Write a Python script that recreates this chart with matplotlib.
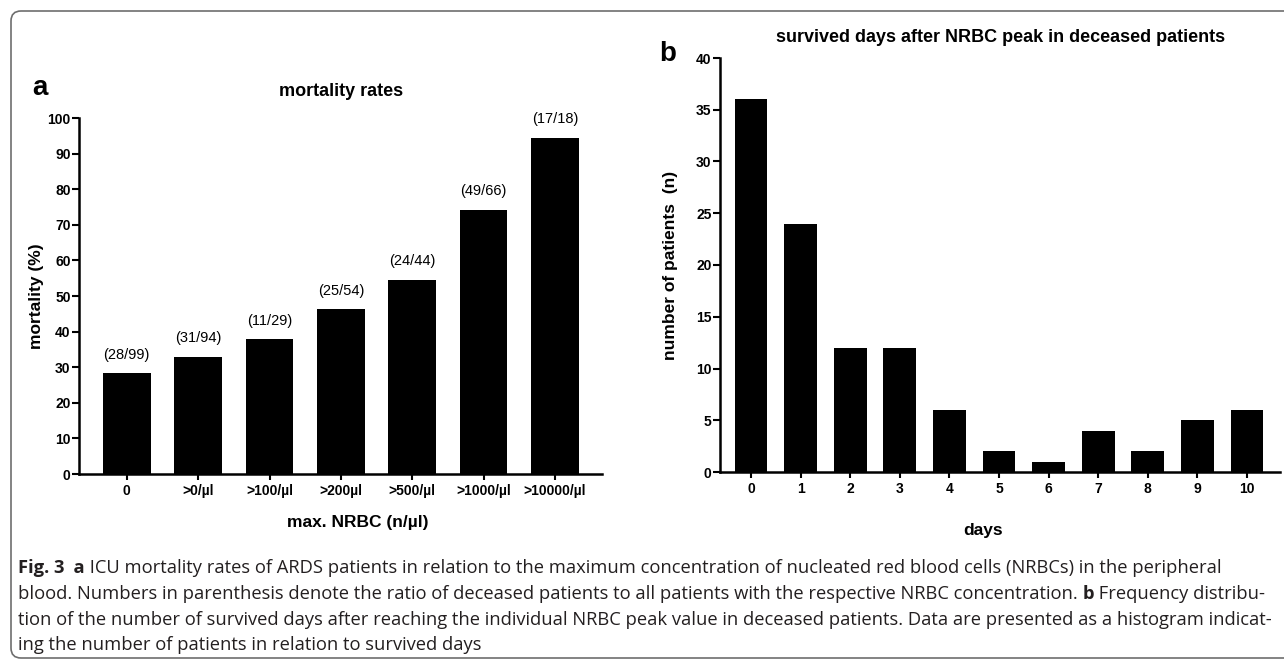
import matplotlib
matplotlib.use('Agg')
import matplotlib.pyplot as plt
from matplotlib import font_manager
from matplotlib.path import Path
from matplotlib.patches import PathPatch

# panel a: mortality by max NRBC
nrbc_groups = ['0', '>0/µl', '>100/µl', '>200µl', '>500/µl', '>1000/µl', '>10000/µl']
mortality = [28.3, 33.0, 37.9, 46.3, 54.5, 74.2, 94.4]
ratio_labels = ['(28/99)', '(31/94)', '(11/29)', '(25/54)', '(24/44)', '(49/66)', '(17/18)']

# panel b: survived days after NRBC peak
days = [0, 1, 2, 3, 4, 5, 6, 7, 8, 9, 10]
n_patients = [36, 24, 12, 12, 6, 2, 1, 4, 2, 5, 6]

W, H = 1284, 660
plt.rcParams['font.family'] = ['Liberation Sans', 'DejaVu Sans']

# caption is set in a condensed face in the original
installed = {f.name for f in font_manager.fontManager.ttflist}
cap_family = ['Liberation Sans Narrow'] if 'Liberation Sans Narrow' in installed else ['Open Sans']
cap_family = cap_family + ['DejaVu Sans']


def fx(px):
    return px / W


def fy(py):
    return 1 - py / H


def style_axis(ax):
    ax.spines['top'].set_visible(False)
    ax.spines['right'].set_visible(False)
    ax.spines['left'].set_linewidth(1.8)
    ax.spines['bottom'].set_linewidth(1.8)
    ax.tick_params(axis='y', width=1.5, length=5, pad=1, labelsize=10)
    ax.tick_params(axis='x', width=1.5, length=4.5, pad=3, labelsize=10)


fig = plt.figure(figsize=(W / 100, H / 100), dpi=100)

# --- panel a
ax1 = fig.add_axes([fx(79), fy(474), fx(602 - 79), (474 - 118) / H])
ax1.bar(range(len(mortality)), mortality, width=0.67, color='black')
for i, (v, lab) in enumerate(zip(mortality, ratio_labels)):
    ax1.text(i, v + 5.2, lab, ha='center', va='center', fontsize=10.5)
ax1.set_xlim(-0.67, 6.66)
ax1.set_ylim(0, 100)
ax1.set_yticks(range(0, 101, 10))
ax1.set_yticklabels([str(t) for t in range(0, 101, 10)], fontweight='bold')
ax1.set_xticks(range(len(nrbc_groups)))
ax1.set_xticklabels(nrbc_groups, fontweight='bold')
style_axis(ax1)

fig.text(fx(341), fy(92), 'mortality rates', ha='center', va='center', fontsize=13, fontweight='bold')
fig.text(fx(358), fy(522), 'max. NRBC (n/µl)', ha='center', va='center', fontsize=12.5, fontweight='bold')
fig.text(fx(36), fy(296), 'mortality (%)', ha='center', va='center', rotation=90, fontsize=12.5,
         fontweight='bold')
fig.text(fx(40), fy(88), 'a', ha='center', va='center', fontsize=20, fontweight='bold')

# --- panel b
ax2 = fig.add_axes([fx(720), fy(472), fx(1280 - 720), (472 - 58) / H])
ax2.bar(days, n_patients, width=0.66, color='black')
ax2.set_xlim(-0.625, 10.665)
ax2.set_ylim(0, 40)
ax2.set_yticks(range(0, 41, 5))
ax2.set_yticklabels([str(t) for t in range(0, 41, 5)], fontweight='bold')
ax2.set_xticks(days)
ax2.set_xticklabels([str(d) for d in days], fontweight='bold')
style_axis(ax2)

fig.text(fx(1001), fy(38), 'survived days after NRBC peak in deceased patients', ha='center', va='center',
         fontsize=13, fontweight='bold')
fig.text(fx(983), fy(530), 'days', ha='center', va='center', fontsize=12.5, fontweight='bold')
fig.text(fx(671), fy(265), 'number of patients  (n)', ha='center', va='center', rotation=90, fontsize=12.5,
         fontweight='bold')
fig.text(fx(668), fy(54), 'b', ha='center', va='center', fontsize=20, fontweight='bold')

# --- frame round the figure (open on the right)
r = 10
verts = [(W, 11), (11 + r, 11), (11, 11), (11, 11 + r), (11, 658 - r), (11, 658), (11 + r, 658), (W, 658)]
codes = [Path.MOVETO, Path.LINETO, Path.CURVE3, Path.CURVE3, Path.LINETO, Path.CURVE3, Path.CURVE3, Path.LINETO]
frame = Path([(fx(x), fy(y)) for x, y in verts], codes)
fig.add_artist(PathPatch(frame, transform=fig.transFigure, fill=False, edgecolor='#6e6e6e', lw=1.2))

# --- caption
caption = [
    [('Fig. 3', 'bold'), ('  a', 'bold'), (' ICU mortality rates of ARDS patients in relation to the maximum '
                                           'concentration of nucleated red blood cells (NRBCs) in the peripheral',
                                           'normal')],
    [('blood. Numbers in parenthesis denote the ratio of deceased patients to all patients with the respective '
      'NRBC concentration. ', 'normal'), ('b', 'bold'), (' Frequency distribu-', 'normal')],
    [('tion of the number of survived days after reaching the individual NRBC peak value in deceased patients. '
      'Data are presented as a histogram indicat-', 'normal')],
    [('ing the number of patients in relation to survived days', 'normal')],
]
cap_y = [568, 594, 620, 645]
renderer = fig.canvas.get_renderer()


def draw_line(pieces, x0, y, size):
    x = x0
    texts = []
    for txt, weight in pieces:
        t = fig.text(fx(x), fy(y), txt, ha='left', va='center', fontsize=size, fontweight=weight,
                     family=cap_family, color='#231f20')
        x += t.get_window_extent(renderer=renderer).width
        texts.append(t)
    return texts, x - x0


# fit the font size so the second (full) line spans the text block
probe, width = draw_line(caption[1], 18, -100, 10)
for t in probe:
    t.remove()
cap_size = 10 * (1263 - 18) / width
for line, y in zip(caption, cap_y):
    draw_line(line, 18, y, cap_size)

fig.savefig('out.png', dpi=100)
